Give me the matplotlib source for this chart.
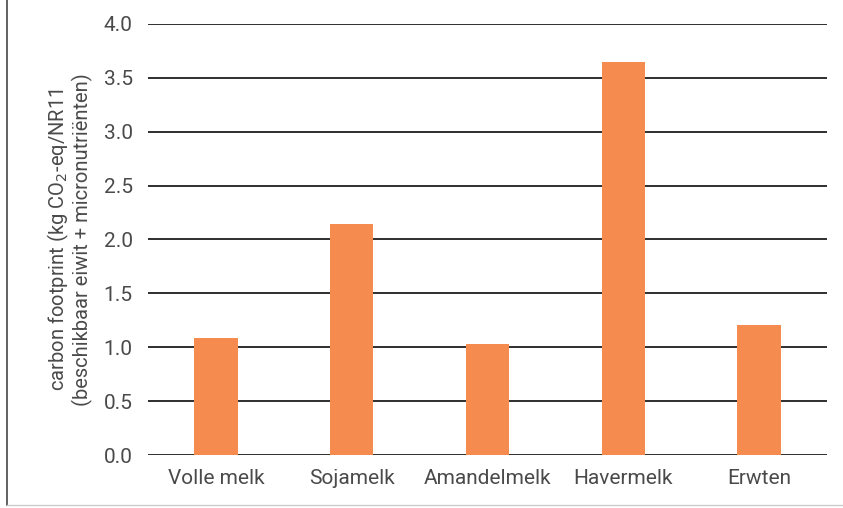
import matplotlib.pyplot as plt
from matplotlib.lines import Line2D

categories = ['Volle melk', 'Sojamelk', 'Amandelmelk', 'Havermelk', 'Erwten']
footprint = [1.09, 2.14, 1.03, 3.65, 1.21]
y_ticks = [0.0, 0.5, 1.0, 1.5, 2.0, 2.5, 3.0, 3.5, 4.0]

plt.rcParams['font.family'] = ['Roboto', 'DejaVu Sans']

fig = plt.figure(figsize=(8.43, 5.08), dpi=100)
ax = fig.add_axes([0.1756, 0.1043, 0.8054, 0.8485])

# horizontal gridlines behind the bars
for t in y_ticks:
    ax.axhline(t, color='#2e2e2e', linewidth=1.4, zorder=1)

ax.bar(range(len(categories)), footprint, width=0.32, color='#f68b50', zorder=2)

ax.set_xlim(-0.5, len(categories) - 0.5)
ax.set_ylim(0, 4.0)
ax.set_yticks(y_ticks)
ax.set_yticklabels([f'{t:.1f}' for t in y_ticks])
ax.set_xticks(range(len(categories)))
ax.set_xticklabels(categories)
ax.tick_params(axis='y', length=0, pad=11, labelsize=15, labelcolor='#4a4a4a')
ax.tick_params(axis='x', length=0, pad=10, labelsize=15, labelcolor='#4a4a4a')
for s in ax.spines.values():
    s.set_visible(False)

ax.set_ylabel('carbon footprint (kg CO$_2$-eq/NR11\n(beschikbaar eiwit + micronutriënten)',
              fontsize=14.5, color='#4a4a4a', labelpad=8, linespacing=1.05)

# page border on the left and bottom
fig.add_artist(Line2D([7 / 843, 7 / 843], [0.005, 1.0], transform=fig.transFigure,
                      color='#555555', linewidth=1.3))
fig.add_artist(Line2D([7 / 843, 1.0], [3 / 508, 3 / 508], transform=fig.transFigure,
                      color='#cccccc', linewidth=1.0))

fig.savefig('out.png', dpi=100)
